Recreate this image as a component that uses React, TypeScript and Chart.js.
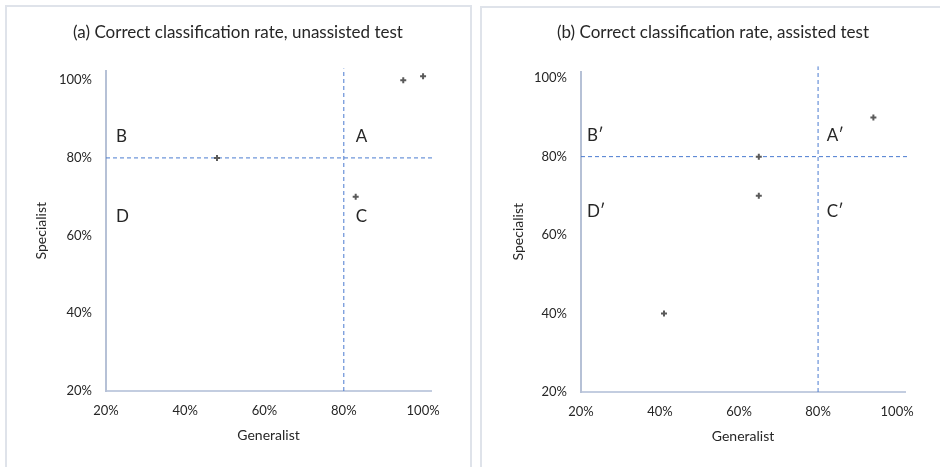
import React, { useEffect, useRef } from "react";
import { Chart, registerables } from "chart.js";

Chart.register(...registerables);

// ---- data ----
const tickValues = [0.2, 0.4, 0.6, 0.8, 1.0];
const unassistedGeneralist = [0.95, 1.0, 0.48, 0.83];
const unassistedSpecialist = [1.0, 1.01, 0.8, 0.7];
const assistedGeneralist = [0.94, 0.65, 0.65, 0.41];
const assistedSpecialist = [0.9, 0.8, 0.7, 0.4];
const threshold = 0.8;
const axisMin = 0.2;
const guideEnd = 1.03;
const quadrantsA = ["A", "B", "C", "D"];
const quadrantsB = ["A\u2032", "B\u2032", "C\u2032", "D\u2032"];
const titleA = "(a) Correct classification rate, unassisted test";
const titleB = "(b) Correct classification rate, assisted test";
const xTitle = "Generalist";
const yTitle = "Specialist";

const FONT = "Lato, 'Open Sans', sans-serif";
const TEXT = "#262626";

type PanelCfg = {
  title: string;
  titleX: number;
  gx: number[];
  gy: number[];
  quads: string[];
  quadX: [number, number];
  quadY: [number, number];
  xMax: number;
  yMax: number;
  pad: { left: number; right: number; top: number };
  yWidth: number;
  xHeight: number;
  yTitlePad: number;
  xTitlePad: number;
};

const overlayPlugin = {
  id: "overlay",
  afterDraw(chart: any, _args: any, opts: any) {
    const { ctx } = chart;
    const xs = chart.scales.x;
    const ys = chart.scales.y;
    ctx.save();
    ctx.fillStyle = TEXT;
    ctx.textBaseline = "middle";
    ctx.textAlign = "center";
    ctx.font = `17px ${FONT}`;
    ctx.fillText(opts.title, opts.titleX, 33);
    ctx.textAlign = "left";
    ctx.font = `17px ${FONT}`;
    const [a, b, c, d] = opts.quads;
    const [qxL, qxR] = opts.quadX;
    const [qyT, qyB] = opts.quadY;
    ctx.fillText(b, xs.getPixelForValue(qxL), ys.getPixelForValue(qyT));
    ctx.fillText(a, xs.getPixelForValue(qxR), ys.getPixelForValue(qyT));
    ctx.fillText(d, xs.getPixelForValue(qxL), ys.getPixelForValue(qyB));
    ctx.fillText(c, xs.getPixelForValue(qxR), ys.getPixelForValue(qyB));
    ctx.restore();
  },
};

function Panel({ cfg, left }: { cfg: PanelCfg; left: number }) {
  const ref = useRef<HTMLCanvasElement | null>(null);
  useEffect(() => {
    if (!ref.current) return;
    const points = cfg.gx.map((g, i) => ({ x: g, y: cfg.gy[i] }));
    const hLine = [
      { x: axisMin, y: threshold },
      { x: guideEnd, y: threshold },
    ];
    const vLine = [
      { x: threshold, y: axisMin },
      { x: threshold, y: guideEnd },
    ];
    const guide = {
      type: "line" as const,
      showLine: true,
      borderColor: "#4a7bd0",
      borderWidth: 1,
      borderDash: [4, 3],
      pointRadius: 0,
      clip: false as any,
      fill: false,
      order: 2,
    };
    const chart = new Chart(ref.current, {
      type: "scatter",
      data: {
        datasets: [
          { ...guide, data: hLine },
          { ...guide, data: vLine },
          {
            data: points,
            pointStyle: "cross",
            pointRadius: 3,
            borderWidth: 2,
            borderColor: "#5a5a5a",
            backgroundColor: "#5a5a5a",
            order: 1,
          },
        ],
      },
      options: {
        responsive: false,
        animation: false,
        events: [],
        layout: {
          padding: { left: cfg.pad.left, right: cfg.pad.right, top: cfg.pad.top, bottom: 0 },
        },
        plugins: {
          legend: { display: false },
          tooltip: { enabled: false },
          title: { display: false },
          overlay: {
            title: cfg.title,
            titleX: cfg.titleX,
            quads: cfg.quads,
            quadX: cfg.quadX,
            quadY: cfg.quadY,
          },
        } as any,
        scales: {
          x: {
            type: "linear",
            min: axisMin,
            max: cfg.xMax,
            grid: { display: false, drawTicks: false },
            border: { display: true, color: "#c3cde0", width: 2 },
            afterBuildTicks: (s: any) => {
              s.ticks = tickValues.map((v) => ({ value: v }));
            },
            afterFit: (s: any) => {
              s.height = cfg.xHeight;
            },
            ticks: {
              padding: 12,
              color: "#262626",
              font: { family: FONT, size: 13 },
              maxRotation: 0,
              callback: (v: any) => `${Math.round(Number(v) * 100)}%`,
            },
            title: {
              display: true,
              text: xTitle,
              color: TEXT,
              font: { family: FONT, size: 14 },
              padding: { top: 0, bottom: cfg.xTitlePad },
            },
          },
          y: {
            type: "linear",
            min: axisMin,
            max: cfg.yMax,
            grid: { display: false, drawTicks: false },
            border: { display: true, color: "#b6c1d6", width: 2 },
            afterBuildTicks: (s: any) => {
              s.ticks = tickValues.map((v) => ({ value: v }));
            },
            afterFit: (s: any) => {
              s.width = cfg.yWidth;
            },
            ticks: {
              padding: 14,
              color: "#262626",
              font: { family: FONT, size: 13 },
              callback: (v: any) => `${Math.round(Number(v) * 100)}%`,
            },
            title: {
              display: true,
              text: yTitle,
              color: TEXT,
              font: { family: FONT, size: 14 },
              padding: { top: cfg.yTitlePad, bottom: 0 },
            },
          },
        },
      },
      plugins: [overlayPlugin],
    });
    return () => chart.destroy();
  }, [cfg]);
  return (
    <canvas
      ref={ref}
      width={470}
      height={467}
      style={{ position: "absolute", left, top: 0, width: 470, height: 467 }}
    />
  );
}

const panelA: PanelCfg = {
  title: titleA,
  titleX: 238,
  gx: unassistedGeneralist,
  gy: unassistedSpecialist,
  quads: quadrantsA,
  quadX: [0.225, 0.83],
  quadY: [0.855, 0.65],
  xMax: 1.02,
  yMax: 1.025,
  pad: { left: 0, right: 39, top: 70.5 },
  yWidth: 106,
  xHeight: 76,
  yTitlePad: 33,
  xTitlePad: 23.6,
};

const panelB: PanelCfg = {
  title: titleB,
  titleX: 243,
  gx: assistedGeneralist,
  gy: assistedSpecialist,
  quads: quadrantsB,
  quadX: [0.215, 0.822],
  quadY: [0.853, 0.66],
  xMax: 1.02,
  yMax: 1.017,
  pad: { left: 0, right: 35, top: 71.5 },
  yWidth: 111,
  xHeight: 75,
  yTitlePad: 39.6,
  xTitlePad: 22.6,
};

export default function App() {
  return (
    <div
      style={{
        position: "fixed",
        left: 0,
        top: 0,
        width: 940,
        height: 467,
        overflow: "hidden",
        background: "#fff",
      }}
    >
      <Panel cfg={panelA} left={0} />
      <Panel cfg={panelB} left={470} />
      <div
        style={{
          position: "absolute",
          left: 5,
          top: 5,
          width: 467,
          height: 480,
          border: "2px solid #dfe3ea",
          boxSizing: "border-box",
          pointerEvents: "none",
        }}
      />
      <div
        style={{
          position: "absolute",
          left: 480,
          top: 6,
          width: 480,
          height: 480,
          border: "2px solid #dfe3ea",
          boxSizing: "border-box",
          pointerEvents: "none",
        }}
      />
    </div>
  );
}
